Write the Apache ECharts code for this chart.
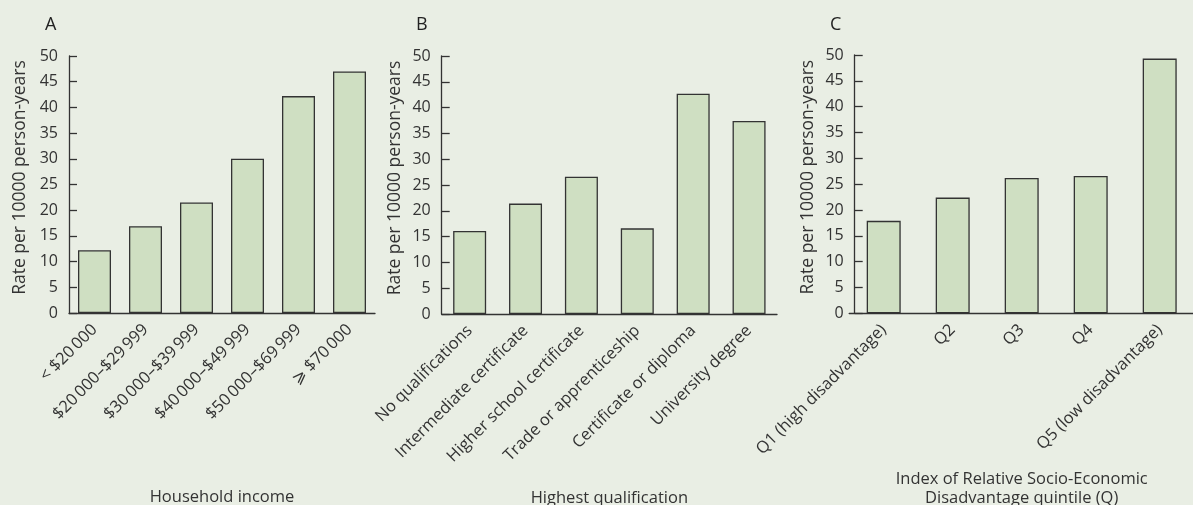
<!DOCTYPE html>
<html>
<head>
<meta charset="utf-8">
<script src="https://cdn.jsdelivr.net/npm/echarts@6/dist/echarts.min.js"></script>
<style>
html,body{margin:0;padding:0;background:#e9eee4;}
#c{width:1193px;height:505px;}
</style>
</head>
<body>
<div id="c"></div>
<script>
const incomeCats = ['< $20\u2009000', '$20\u2009000\u2013$29\u2009999', '$30\u2009000\u2013$39\u2009999', '$40\u2009000\u2013$49\u2009999', '$50\u2009000\u2013$69\u2009999', '\u2A7E $70\u2009000'];
const incomeVals = [12.2, 16.9, 21.5, 30.0, 42.2, 47.0];
const qualCats = ['No qualifications', 'Intermediate certificate', 'Higher school certificate', 'Trade or apprenticeship', 'Certificate or diploma', 'University degree'];
const qualVals = [16.1, 21.4, 26.6, 16.6, 42.7, 37.4];
const irsdCats = ['Q1 (high disadvantage)', 'Q2', 'Q3', 'Q4', 'Q5 (low disadvantage)'];
const irsdVals = [17.9, 22.4, 26.2, 26.6, 49.3];
const panelLetters = ['A', 'B', 'C'];
const xTitles = ['Household income', 'Highest qualification', 'Index of Relative Socio-Economic\nDisadvantage quintile (Q)'];
const yTitle = 'Rate per 10000 person-years';

const FONT = 'Open Sans';
const TXT = '#333333';
const grids = [
  {left: 69, top: 56, width: 306, height: 257, outerBoundsMode: 'none', containLabel: false},
  {left: 441.7, top: 56, width: 335.3, height: 258, outerBoundsMode: 'none', containLabel: false},
  {left: 849.2, top: 55, width: 345, height: 258.3, outerBoundsMode: 'none', containLabel: false}
];
const cats = [incomeCats, qualCats, irsdCats];
const vals = [incomeVals, qualVals, irsdVals];
const yOffsets = [0, 0, -5.5];
const yNameGaps = [40, 38, 37.7];
const xNameGaps = [175, 175, 156];
const letterLeft = [40, 411, 825];

const chart = echarts.init(document.getElementById('c'), null, {renderer: 'canvas'});
chart.setOption({
  backgroundColor: '#e9eee4',
  animation: false,
  textStyle: {fontFamily: FONT, color: TXT},
  title: panelLetters.map((t, i) => ({
    text: t, left: letterLeft[i], top: 11,
    textStyle: {fontFamily: FONT, fontSize: 18, fontWeight: 'normal', color: '#222'}
  })),
  grid: grids,
  xAxis: cats.map((c, i) => ({
    type: 'category', gridIndex: i, data: c,
    axisLine: {show: true, lineStyle: {color: '#333', width: 1.3}},
    axisTick: {show: false},
    axisLabel: {rotate: 45, fontFamily: FONT, fontSize: 16.5, color: TXT, margin: 14, interval: 0},
    name: xTitles[i], nameLocation: 'middle', nameGap: xNameGaps[i],
    nameTextStyle: {fontFamily: FONT, fontSize: 16.5, color: TXT, lineHeight: 19}
  })),
  yAxis: cats.map((c, i) => ({
    type: 'value', gridIndex: i, min: 0, max: 50, interval: 5, offset: yOffsets[i],
    axisLine: {show: true, lineStyle: {color: '#333', width: 1.3}},
    axisTick: {show: true, inside: true, length: 8, lineStyle: {color: '#333', width: 1.3}},
    axisLabel: {fontFamily: FONT, fontSize: 16, color: TXT, margin: 11},
    splitLine: {show: false},
    name: yTitle, nameLocation: 'middle', nameRotate: 90, nameGap: yNameGaps[i],
    nameTextStyle: {fontFamily: FONT, fontSize: 17.5, color: TXT, padding: [0, 0, 0, 14]}
  })),
  series: vals.map((v, i) => ({
    type: 'bar', xAxisIndex: i, yAxisIndex: i, data: v,
    barWidth: i === 2 ? 34 : 33,
    itemStyle: {color: '#cfdfc2', borderColor: '#333', borderWidth: 1.3}
  }))
});
</script>
</body>
</html>
